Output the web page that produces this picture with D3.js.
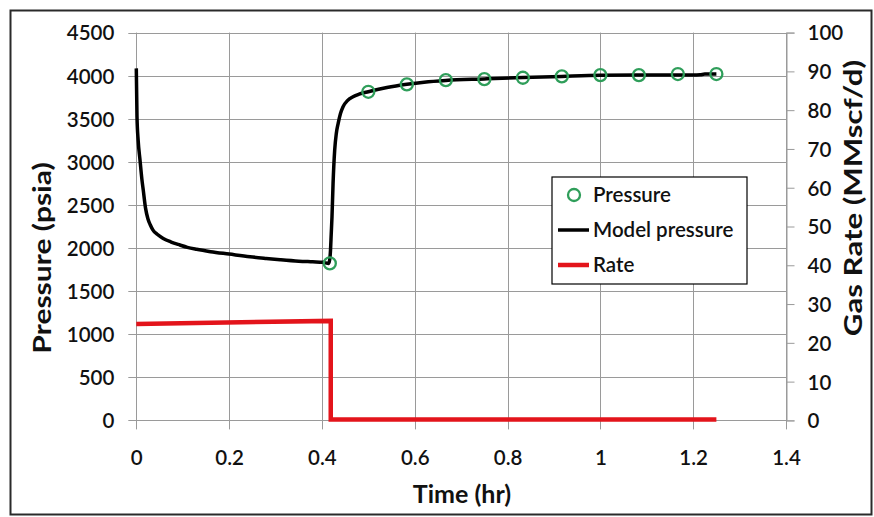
<!DOCTYPE html>
<html>
<head>
<meta charset="utf-8">
<script src="https://cdn.jsdelivr.net/npm/d3@7"></script>
<style>
  html, body { margin: 0; padding: 0; background: #fff; }
  svg { display: block; font-family: Lato, "Open Sans", sans-serif; }
</style>
</head>
<body>
<svg id="chart" width="874" height="517"></svg>
<script>
// ---- data ----
const modelTime = [0, 0.0015, 0.004, 0.008, 0.012, 0.015, 0.02, 0.025, 0.03, 0.036, 0.045, 0.058, 0.075, 0.094, 0.11, 0.13, 0.16, 0.2, 0.245, 0.28, 0.31, 0.35, 0.38, 0.402, 0.415, 0.4175, 0.4185, 0.42, 0.4217, 0.424, 0.4275, 0.431, 0.435, 0.44, 0.4455, 0.455, 0.467, 0.48, 0.5, 0.54, 0.583, 0.62, 0.667, 0.75, 0.833, 0.917, 1.0, 1.083, 1.15, 1.2, 1.215, 1.225, 1.25];
const modelPressure = [4085, 3520, 3250, 3020, 2800, 2672, 2460, 2340, 2270, 2208, 2160, 2112, 2070, 2035, 2008, 1985, 1958, 1930, 1899, 1880, 1865, 1848, 1840, 1834, 1822, 1900, 1977, 2160, 2363, 2750, 3137, 3330, 3447, 3560, 3640, 3710, 3755, 3785, 3814, 3862, 3900, 3925, 3945, 3962, 3978, 3992, 4004, 4007, 4008, 4008, 4010, 4019, 4020];
const obsTime = [0.417, 0.5, 0.583, 0.667, 0.75, 0.833, 0.917, 1.0, 1.083, 1.167, 1.25];
const obsPressure = [1822, 3813, 3899, 3949, 3960, 3976, 3992, 4007, 4007, 4019, 4019];
const rateTime = [0, 0.419, 0.419, 1.25];
const rateValue = [24.6, 25.4, 0, 0];
const xTicks = [0, 0.2, 0.4, 0.6, 0.8, 1, 1.2, 1.4];
const yLeftTicks = [0, 500, 1000, 1500, 2000, 2500, 3000, 3500, 4000, 4500];
const yRightTicks = [0, 10, 20, 30, 40, 50, 60, 70, 80, 90, 100];
const legendLabels = ["Pressure", "Model pressure", "Rate"];

// ---- layout ----
const svg = d3.select("#chart");
const X0 = 136.3, X1 = 786, Y0 = 420.4, Y1 = 32.6;
const x = d3.scaleLinear().domain([0, 1.4]).range([X0, X1]);
const yL = d3.scaleLinear().domain([0, 4500]).range([Y0, Y1]);
const yR = d3.scaleLinear().domain([0, 100]).range([Y0, Y1]);
const gridColor = "#9a9a9a";
const textColor = "#111";
const tickFont = 20.5;

// frame
svg.append("rect").attr("x", 10.5).attr("y", 10.5).attr("width", 861).attr("height", 504)
  .attr("fill", "#fff").attr("stroke", "#2a2a2a").attr("stroke-width", 2);

// gridlines (horizontal extend as outer ticks)
svg.append("g").selectAll("line").data(yLeftTicks).join("line")
  .attr("x1", X0 - 8).attr("x2", X1)
  .attr("y1", d => Math.round(yL(d)) + 0.5).attr("y2", d => Math.round(yL(d)) + 0.5)
  .attr("stroke", gridColor).attr("stroke-width", 1);
svg.append("g").selectAll("line").data(xTicks).join("line")
  .attr("x1", d => Math.round(x(d)) + 0.5).attr("x2", d => Math.round(x(d)) + 0.5)
  .attr("y1", Y1).attr("y2", Y0 + 9)
  .attr("stroke", gridColor).attr("stroke-width", 1);

// left axis labels
const axL = d3.axisLeft(yL).tickValues(yLeftTicks).tickSize(0).tickPadding(0).tickFormat(d3.format("d"));
const gL = svg.append("g").attr("transform", `translate(${X0 - 22},0)`).call(axL);
gL.select(".domain").remove();
gL.selectAll("text").attr("font-size", tickFont).attr("font-weight", 600).attr("fill", textColor)
  .attr("font-family", "Lato, sans-serif").attr("dy", "0.36em");

// right axis with outward ticks
const axR = d3.axisRight(yR).tickValues(yRightTicks).tickSize(8).tickPadding(13).tickFormat(d3.format("d"));
const gR = svg.append("g").attr("transform", `translate(${Math.round(X1) + 0.5},0)`).call(axR);
gR.select(".domain").attr("stroke", gridColor);
gR.selectAll(".tick line").attr("stroke", gridColor);
gR.selectAll("text").attr("font-size", tickFont).attr("font-weight", 600).attr("fill", textColor)
  .attr("font-family", "Lato, sans-serif").attr("dy", "0.36em");

// bottom axis labels
const axB = d3.axisBottom(x).tickValues(xTicks).tickSize(0).tickPadding(0).tickFormat(d => String(d));
const gB = svg.append("g").attr("transform", `translate(0,${Y0 + 45})`).call(axB);
gB.select(".domain").remove();
gB.selectAll("text").attr("font-size", tickFont).attr("font-weight", 600).attr("fill", textColor)
  .attr("font-family", "Lato, sans-serif").attr("dy", 0);

// axis titles
svg.append("text").attr("transform", "translate(51,258) rotate(-90) scale(1.2,1)")
  .attr("text-anchor", "middle").attr("font-size", 25).attr("font-weight", 700).attr("fill", textColor)
  .text("Pressure (psia)");
svg.append("text").attr("transform", "translate(862,198) rotate(-90) scale(1.3,1)")
  .attr("text-anchor", "middle").attr("font-size", 24).attr("font-weight", 700).attr("fill", textColor)
  .text("Gas Rate (MMscf/d)");
svg.append("text").attr("x", 462).attr("y", 503)
  .attr("text-anchor", "middle").attr("font-size", 25).attr("font-weight", 700).attr("fill", textColor)
  .text("Time (hr)");

// rate line
const rateData = rateTime.map((t, i) => [t, rateValue[i]]);
svg.append("path").datum(rateData)
  .attr("d", d3.line().x(d => x(d[0])).y(d => yR(d[1]) - 1))
  .attr("fill", "none").attr("stroke", "#e3141b").attr("stroke-width", 4.5).attr("stroke-linejoin", "miter");

// model pressure
const modelData = modelTime.map((t, i) => [t, modelPressure[i]]);
svg.append("path").datum(modelData)
  .attr("d", d3.line().x(d => x(d[0])).y(d => yL(d[1])).curve(d3.curveMonotoneX))
  .attr("fill", "none").attr("stroke", "#000").attr("stroke-width", 3.5).attr("stroke-linejoin", "round");

// observed pressure points
const greenC = "#2f9e5a";
svg.append("g").selectAll("circle").data(obsTime.map((t, i) => [t, obsPressure[i]])).join("circle")
  .attr("cx", d => x(d[0])).attr("cy", d => yL(d[1])).attr("r", 6)
  .attr("fill", "none").attr("stroke", greenC).attr("stroke-width", 2.3);

// legend
const lg = svg.append("g");
lg.append("rect").attr("x", 552).attr("y", 177).attr("width", 195).attr("height", 107)
  .attr("fill", "#fff").attr("stroke", "#000").attr("stroke-width", 1.2);
const rowsY = [195, 230, 265];
lg.append("circle").attr("cx", 574).attr("cy", rowsY[0]).attr("r", 6)
  .attr("fill", "none").attr("stroke", greenC).attr("stroke-width", 2.3);
lg.append("line").attr("x1", 558).attr("x2", 589).attr("y1", rowsY[1]).attr("y2", rowsY[1])
  .attr("stroke", "#000").attr("stroke-width", 3.5);
lg.append("line").attr("x1", 558).attr("x2", 589).attr("y1", rowsY[2]).attr("y2", rowsY[2])
  .attr("stroke", "#e3141b").attr("stroke-width", 4.5);
lg.selectAll("text.lab").data(legendLabels).join("text").attr("class", "lab")
  .attr("x", 593).attr("y", (d, i) => rowsY[i]).attr("dy", "0.36em")
  .attr("font-size", 20.5).attr("font-weight", 600).attr("fill", textColor)
  .text(d => d);
</script>
</body>
</html>
